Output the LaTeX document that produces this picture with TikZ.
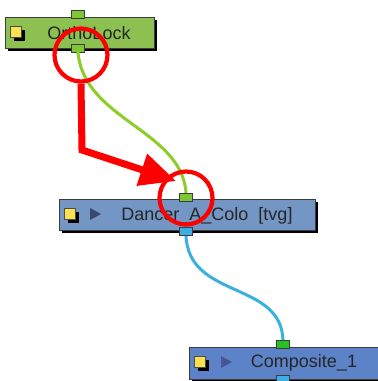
\documentclass[tikz,border=0pt]{standalone}
\usepackage{fontspec}
\setmainfont{Liberation Sans}
\usetikzlibrary{arrows.meta}
\definecolor{ogreen}{RGB}{140,193,82}
\definecolor{dblue}{RGB}{115,150,196}
\definecolor{cblue}{RGB}{92,130,200}
\definecolor{pgreen}{RGB}{126,198,51}
\definecolor{pgreenb}{RGB}{34,195,34}
\definecolor{pblue}{RGB}{61,174,227}
\definecolor{wgreen}{RGB}{140,205,40}
\definecolor{wblue}{RGB}{58,176,224}
\definecolor{tri}{RGB}{58,72,110}
\definecolor{tri2}{RGB}{70,85,150}
\definecolor{bord}{RGB}{60,60,60}
\definecolor{yel}{RGB}{250,225,80}
\tikzset{
  box/.style={draw=bord, line width=0.8pt, minimum height=31pt, inner sep=0pt, anchor=north west},
  shad/.style={fill=black, draw=none, minimum height=31pt, inner sep=0pt, anchor=north west},
  port/.style={draw=bord, line width=0.6pt, minimum width=13pt, minimum height=8pt, inner sep=0pt},
  lbl/.style={font=\fontsize{18}{20}\selectfont, inner sep=0pt, text=black!85},
  ysq/.style={fill=yel, draw=black!70, line width=0.6pt, minimum size=11pt, inner sep=0pt},
  ysh/.style={fill=black, minimum size=11pt, inner sep=0pt},
  ring/.style={circle, draw=red, line width=4.2pt, minimum size=53pt, inner sep=0pt},
  wire/.style={line width=3pt, line cap=round}
}
\begin{document}
\begin{tikzpicture}[x=1pt,y=-1pt]
\useasboundingbox (0,0) rectangle (378,381);
\clip (0,0) rectangle (378,381);
\fill[white] (0,0) rectangle (378,381);
% OrthoLock
\node[shad, minimum width=149pt] (osh) at (8,20) {};
\node[box, fill=ogreen, minimum width=149pt] (ortho) at (5,17) {};
\node[ysh] (oish) at (19,35) {};
\node[ysq] (oicon) at (16,32) {};
\node[lbl] (otext) at (89,33) {OrthoLock};
\node[port, fill=pgreen] (otop) at (78,14) {};
\node[port, fill=pgreen] (obot) at (78,48) {};
% Dancer
\node[shad, minimum width=256pt] (dsh) at (62,202) {};
\node[box, fill=dblue, minimum width=256pt] (dancer) at (59,199) {};
\node[ysh] (dish) at (73,217) {};
\node[ysq] (dicon) at (70,214) {};
\fill[tri] (90,208) -- (101,214) -- (90,220) -- cycle;
\node[lbl] (dtext) at (207,216) {Dancer\_A\_Colo\ \ [tvg]};
% Composite
\node[shad, minimum width=200pt] (csh) at (192,350) {};
\node[box, fill=cblue, minimum width=200pt, minimum height=32pt] (comp) at (189,347) {};
\node[ysh] (cish) at (203,365) {};
\node[ysq] (cicon) at (200,362) {};
\fill[tri2] (221,356) -- (232,362) -- (221,368) -- cycle;
\node[lbl] (ctext) at (304,363) {Composite\_1};
% wires
\draw[wire, wgreen] (obot.south) .. controls (84,120) and (182,130) .. (186,193);
\node[port, fill=pgreen] (dtop) at (186,197) {};
\draw[wire, wblue] (186,235) .. controls (188,300) and (282,280) .. (283,341);
\node[port, fill=pblue] (dbot) at (186,231) {};
\node[port, fill=pgreenb] (ctop) at (283,344) {};
\node[port, fill=pblue] (cbot) at (283,379) {};
% red markers
\node[ring] (r1) at (81,55) {};
\node[ring] (r2) at (186,198) {};
\coordinate (bend) at (82,150);
\coordinate (tipp) at (176,181);
\draw[red, line width=7pt, -{Triangle[length=36pt,width=32pt]}] (r1.south) -- (bend) -- (tipp);
\end{tikzpicture}
\end{document}
